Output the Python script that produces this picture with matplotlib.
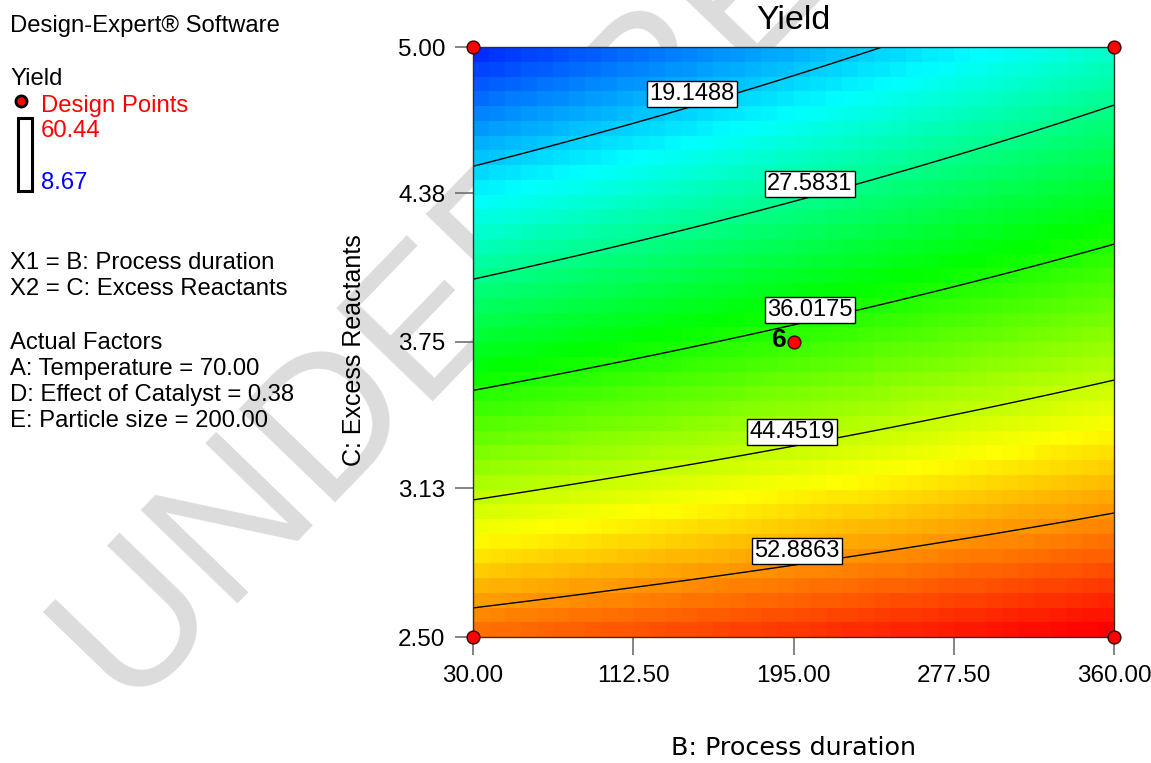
import numpy as np
import matplotlib
matplotlib.use("Agg")
import matplotlib.pyplot as plt
from matplotlib.colors import LinearSegmentedColormap
from matplotlib.patches import Rectangle
from matplotlib.lines import Line2D

# ---------------- data ----------------
b_range = [30.0, 360.0]          # B: Process duration
c_range = [2.50, 5.00]           # C: Excess Reactants
x_ticks = [30.00, 112.50, 195.00, 277.50, 360.00]
y_ticks = [2.50, 3.13, 3.75, 4.38, 5.00]
contour_levels = [19.1488, 27.5831, 36.0175, 44.4519, 52.8863]
label_pos_b = [142.7, 203.5, 203.5, 194.2, 196.8]
label_pos_c = [4.801, 4.419, 3.886, 3.369, 2.864]
design_b = [30.0, 30.0, 360.0, 360.0, 195.0]
design_c = [2.50, 5.00, 2.50, 5.00, 3.75]
center_reps = "6"
yield_min, yield_max = 8.67, 60.44
coef_intercept = 37.2
coef_b = 4.87
coef_c = -20.4
coef_bc = 2.0
coef_bb = 0.0
coef_cc = 0.45
grid_n = 40

side_lines = [
    ("Design-Expert\u00ae Software", 32),
    ("Yield", 85),
    ("X1 = B: Process duration", 269),
    ("X2 = C: Excess Reactants", 295),
    ("Actual Factors", 349),
    ("A: Temperature = 70.00", 375),
    ("D: Effect of Catalyst = 0.38", 401),
    ("E: Particle size = 200.00", 427),
]

plt.rcParams['font.family'] = ['Liberation Sans', 'DejaVu Sans']

W, H = 1151, 763
fig = plt.figure(figsize=(W / 100, H / 100), dpi=100)
ax = fig.add_axes([473 / W, 1 - 637 / H, 641 / W, 590 / H])


def model(b, c):
    x1 = (b - (b_range[0] + b_range[1]) / 2) / ((b_range[1] - b_range[0]) / 2)
    x2 = (c - (c_range[0] + c_range[1]) / 2) / ((c_range[1] - c_range[0]) / 2)
    return (coef_intercept + coef_b * x1 + coef_c * x2 + coef_bc * x1 * x2
            + coef_bb * x1 ** 2 + coef_cc * x2 ** 2)


cmap = LinearSegmentedColormap.from_list(
    "de", ["#0000ff", "#00ffff", "#00ff00", "#ffff00", "#ff0000"])

be = np.linspace(b_range[0], b_range[1], grid_n + 1)
ce = np.linspace(c_range[0], c_range[1], grid_n + 1)
bc = (be[:-1] + be[1:]) / 2
cc = (ce[:-1] + ce[1:]) / 2
BC, CC = np.meshgrid(bc, cc)
ax.pcolormesh(be, ce, model(BC, CC), cmap=cmap, vmin=yield_min, vmax=yield_max,
              shading='flat', zorder=1)

bf = np.linspace(b_range[0], b_range[1], 300)
cf = np.linspace(c_range[0], c_range[1], 300)
BF, CF = np.meshgrid(bf, cf)
ax.contour(BF, CF, model(BF, CF), levels=contour_levels, colors='black',
           linewidths=1.0, zorder=2)
for lev, pb, pc in zip(contour_levels, label_pos_b, label_pos_c):
    ax.text(pb, pc, f"{lev:.4f}", fontsize=17, ha='center', va='center',
            zorder=4,
            bbox=dict(boxstyle='square,pad=0.1', fc='white', ec='black', lw=1.0))

ax.scatter(design_b, design_c, s=85, c='#ff0000', edgecolors='#3a0000',
           linewidths=1.0, zorder=6, clip_on=False)
ax.annotate(center_reps, (design_b[4], design_c[4]), xytext=(-5, 1.5),
            textcoords='offset points', ha='right', va='center',
            fontsize=19, fontweight='bold', zorder=6)

ax.set_xlim(b_range)
ax.set_ylim(c_range)
ax.set_xticks(x_ticks)
ax.set_xticklabels([f"{v:.2f}" for v in x_ticks])
ax.set_yticks(y_ticks)
ax.set_yticklabels([f"{v:.2f}" for v in y_ticks])
ax.tick_params(direction='out', length=13, width=1.2, color='#707070',
               labelsize=17.5, pad=7)
for s in ax.spines.values():
    s.set_linewidth(1.0)
    s.set_color('#303030')
    s.set_zorder(5)

ax.set_title("Yield", fontsize=24.5, pad=13)
ax.set_xlabel("B: Process duration", fontsize=18.3, va='center',
              family=['DejaVu Sans'])
ax.xaxis.set_label_coords(0.5, (637 - 748) / 590)
ax.set_ylabel("C: Excess Reactants", fontsize=18, va='center')
ax.yaxis.set_label_coords((354 - 473) / 641, (637 - 350) / 590)

# side panel
PF = 17.2
for txt, yb in side_lines:
    fig.text(10 / W, 1 - yb / H, txt, fontsize=PF, color='black',
             va='baseline', ha='left')
fig.add_artist(Line2D([21 / W], [1 - 101 / H], marker='o', markersize=8,
                      markerfacecolor='red', markeredgecolor='black',
                      markeredgewidth=2, transform=fig.transFigure))
fig.text(41 / W, 1 - 112 / H, "Design Points", fontsize=PF, color='red',
         va='baseline')
fig.text(41 / W, 1 - 137 / H, f"{yield_max:.2f}", fontsize=PF, color='red',
         va='baseline')
fig.text(41 / W, 1 - 189 / H, f"{yield_min:.2f}", fontsize=PF, color='blue',
         va='baseline')
fig.add_artist(Rectangle((18 / W, 1 - 191 / H), 14 / W, 73 / H, fill=False,
                         lw=2.2, ec='black', transform=fig.transFigure))

# watermark
fig.text(130 / W, 1 - 716 / H, "UNDER REVIEW", fontsize=140, color='#dcdcdc',
         rotation=46, rotation_mode='anchor',
         ha='left', va='baseline', zorder=-1)

fig.savefig("out.png", dpi=100)
